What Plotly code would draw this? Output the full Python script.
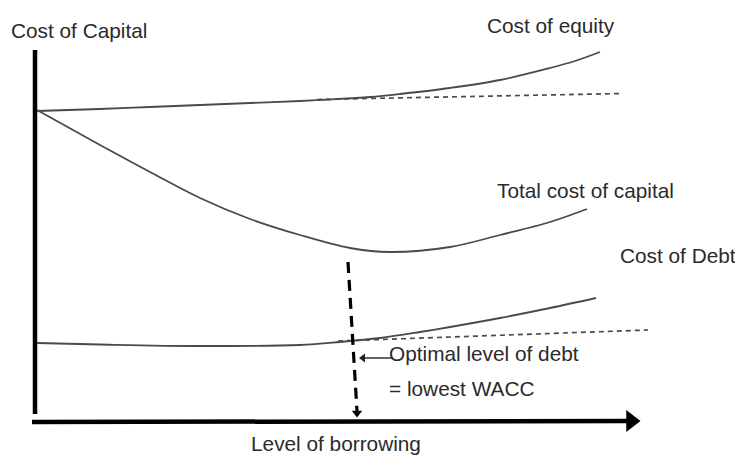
import plotly.graph_objects as go

# Schematic data (chart units: x = level of borrowing, y = position down the canvas)
equity_x = [37, 100, 150, 200, 250, 300, 330, 370, 400, 450, 500, 550, 575, 600]
equity_y = [111, 109, 107, 105, 103, 101, 99.5, 97, 94, 88, 80, 68, 61, 52]
equity_flat_x = [317, 623]
equity_flat_y = [99.5, 93.5]

wacc_x = [37, 100, 150, 200, 250, 300, 350, 390, 450, 500, 550, 587]
wacc_y = [110, 145, 172, 198, 219, 235, 248, 252, 247, 235, 222, 209]

debt_x = [37, 100, 200, 300, 340, 380, 420, 450, 500, 550, 596]
debt_y = [343, 344.5, 346, 345, 342, 338, 332, 327, 318, 308, 298]
debt_flat_x = [338, 648]
debt_flat_y = [341, 330]

optimal_x = [348, 357]
optimal_y = [262, 411]

pointer_x = [392, 364]
pointer_y = [358, 358]

axis_y_x = [35, 35]
axis_y_y = [50, 414]
axis_x_x = [32, 628]
axis_x_y = [422, 421]

labels = [
    ("Cost of Capital", 9, 30),
    ("Cost of equity", 485, 25),
    ("Total cost of capital", 495, 190),
    ("Cost of Debt", 618, 255),
    ("Optimal level of debt", 387, 353),
    ("= lowest WACC", 387, 388),
    ("Level of borrowing", 249, 443),
]

curve_color = "#4a4a4a"
fig = go.Figure()

# axes
fig.add_trace(go.Scatter(x=axis_y_x, y=axis_y_y, mode="lines",
                         line=dict(color="black", width=4.5)))
fig.add_trace(go.Scatter(x=axis_x_x, y=axis_x_y, mode="lines",
                         line=dict(color="black", width=4.5)))
fig.add_trace(go.Scatter(x=[631], y=[421], mode="markers",
                         marker=dict(symbol="triangle-right", size=19, color="black")))

# curves
fig.add_trace(go.Scatter(x=equity_x, y=equity_y, mode="lines", line_shape="spline",
                         line=dict(color=curve_color, width=1.8)))
fig.add_trace(go.Scatter(x=equity_flat_x, y=equity_flat_y, mode="lines",
                         line=dict(color=curve_color, width=1.7, dash="5px,4px")))
fig.add_trace(go.Scatter(x=wacc_x, y=wacc_y, mode="lines", line_shape="spline",
                         line=dict(color=curve_color, width=1.8)))
fig.add_trace(go.Scatter(x=debt_x, y=debt_y, mode="lines", line_shape="spline",
                         line=dict(color=curve_color, width=1.8)))
fig.add_trace(go.Scatter(x=debt_flat_x, y=debt_flat_y, mode="lines",
                         line=dict(color=curve_color, width=1.7, dash="5px,4px")))

# optimal level dashed arrow
fig.add_trace(go.Scatter(x=optimal_x, y=optimal_y, mode="lines",
                         line=dict(color="black", width=3.2, dash="11px,7px")))
fig.add_trace(go.Scatter(x=[optimal_x[1]], y=[optimal_y[1] + 2], mode="markers",
                         marker=dict(symbol="triangle-down", size=9, color="black")))

# small pointer arrow
fig.add_trace(go.Scatter(x=pointer_x, y=pointer_y, mode="lines",
                         line=dict(color="#222222", width=1.4)))
fig.add_trace(go.Scatter(x=[pointer_x[1] - 1], y=[pointer_y[1]], mode="markers",
                         marker=dict(symbol="triangle-left", size=8, color="#222222")))

for text, x, y in labels:
    fig.add_annotation(x=x, y=y, text=text, showarrow=False, xanchor="left",
                       yanchor="middle",
                       font=dict(family="Liberation Sans, Arial, sans-serif",
                                 size=20.8, color="#2a2a2a"))

fig.update_layout(
    width=735, height=455,
    margin=dict(l=0, r=0, t=0, b=0),
    paper_bgcolor="white", plot_bgcolor="white",
    showlegend=False,
    hovermode=False,
    xaxis=dict(range=[0, 735], visible=False, fixedrange=True),
    yaxis=dict(range=[455, 0], visible=False, fixedrange=True),
)

fig.write_html(
    "out.html",
    config={"displayModeBar": False, "staticPlot": True},
    post_script="document.body.style.margin='0';document.body.style.overflow='hidden';",
)
